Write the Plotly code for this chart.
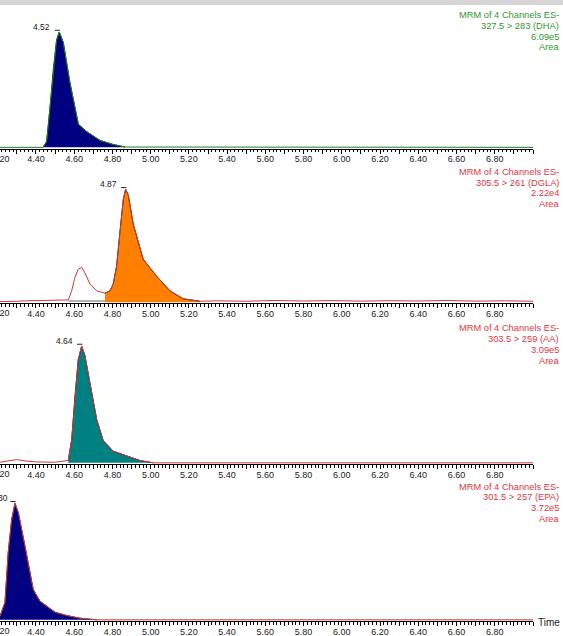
import numpy as np
import plotly.graph_objects as go

# ---------------- data ----------------
tick_values = [4.20, 4.40, 4.60, 4.80, 5.00, 5.20, 5.40, 5.60, 5.80, 6.00, 6.20, 6.40, 6.60, 6.80]
tick_labels = ["4.20", "4.40", "4.60", "4.80", "5.00", "5.20", "5.40", "5.60", "5.80", "6.00", "6.20", "6.40", "6.60", "6.80"]

dha_time = [4.212, 4.437, 4.456, 4.473, 4.491, 4.508, 4.522, 4.543, 4.578, 4.622, 4.665, 4.735, 4.804, 4.866, 7.0]
dha_int = [0, 0, 5, 33, 68, 93, 100, 91, 56, 20, 13.7, 6, 2.5, 0.3, 0]
dha_area = [4.437, 4.866]

dgla_time = [4.212, 4.25, 4.30, 4.35, 4.40, 4.45, 4.50, 4.562, 4.569, 4.587, 4.604, 4.621, 4.639,
             4.656, 4.683, 4.718, 4.761, 4.787, 4.804, 4.822, 4.839, 4.857, 4.869, 4.883, 4.909,
             4.961, 5.031, 5.101, 5.170, 5.258, 5.35, 5.50, 5.65, 5.80, 5.95, 6.10, 6.25, 6.40,
             6.55, 6.70, 6.85, 7.0]
dgla_int = [0.5, 0.5, 0.8, 1.2, 1.4, 1.4, 1.3, 1.5, 2, 10, 22, 29, 31,
            26, 16, 10, 8, 10, 16, 32, 62, 91, 100, 95, 69,
            38, 23, 10, 3, 0.8, 1.2, 0.8, 1.5, 1.0, 1.4, 0.9, 1.3, 1.0,
            1.5, 0.9, 1.2, 0.8]
dgla_area = [4.761, 5.258]
dgla_split = [4.569, 4.761]

aa_time = [4.212, 4.25, 4.299, 4.35, 4.40, 4.50, 4.569, 4.587, 4.604, 4.621, 4.639, 4.656,
           4.683, 4.718, 4.752, 4.804, 4.874, 4.944, 5.014, 5.1, 7.0]
aa_int = [0.5, 1.5, 2.8, 1.5, 0.8, 0.5, 2, 20, 57, 88, 100, 92,
          68, 37, 19, 10, 6, 2, 0, 0, 0]
aa_area = [4.569, 5.014]

epa_time = [4.212, 4.238, 4.255, 4.273, 4.290, 4.308, 4.343, 4.386, 4.421, 4.500, 4.561, 4.630, 4.718, 7.0]
epa_int = [3, 15, 58, 86, 100, 92, 63, 26, 16, 6.5, 3.7, 1.4, 0, 0]
epa_area = [4.212, 4.718]

channels = ["327.5 > 283 (DHA)", "305.5 > 261 (DGLA)", "303.5 > 259 (AA)", "301.5 > 257 (EPA)"]
areas = ["6.09e5", "2.22e4", "3.09e5", "3.72e5"]
peak_rt = ["4.52", "4.87", "4.64", "4.30"]

# ---------------- styling / layout ----------------
W, H = 563, 636
FONT = "Liberation Sans, Arial, sans-serif"
GREEN_TXT = "#2f9a2f"
RED_TXT = "#e0383f"

panels = [
    dict(t=dha_time, y=dha_int, area=dha_area, fill="#000080", line="#1e7d1e", txt=GREEN_TXT,
         base=148.5, peak=32.0, lab=[15.0, 26.0, 36.7, 47.3]),
    dict(t=dgla_time, y=dgla_int, area=dgla_area, fill="#ff8000", line="#cc3a3a", txt=RED_TXT,
         base=303.3, peak=189.3, lab=[171.7, 182.7, 193.3, 204.0]),
    dict(t=aa_time, y=aa_int, area=aa_area, fill="#008080", line="#cc3a3a", txt=RED_TXT,
         base=464.0, peak=346.0, lab=[328.3, 339.3, 350.0, 361.0]),
    dict(t=epa_time, y=epa_int, area=epa_area, fill="#000080", line="#cc3a3a", txt=RED_TXT,
         base=621.0, peak=503.3, lab=[486.7, 497.3, 508.3, 519.3]),
]

X0, X1 = 4.212, 7.0
XPIX = 533.0
XDOM = [0, XPIX / W]
TICKFONT = dict(size=9, family=FONT, color="#222")

fig = go.Figure()
layout = dict(width=W, height=H, margin=dict(l=0, r=0, t=0, b=0),
              paper_bgcolor="white", plot_bgcolor="white", showlegend=False,
              font=dict(family=FONT, size=9, color="#222"))
annotations = []
shapes = [dict(type="rect", xref="paper", yref="paper", x0=0, x1=1, y0=1 - 5 / H, y1=1,
               fillcolor="#d6d6d6", line=dict(width=0), layer="above")]

all_ticks = [round(4.2 + 0.1 * i, 2) for i in range(29)]
all_text = []
for v in all_ticks:
    s = ""
    for tv, tl in zip(tick_values, tick_labels):
        if abs(tv - v) < 1e-6:
            s = tl
    all_text.append(s)

for i, p in enumerate(panels):
    k = "" if i == 0 else str(i + 1)
    xa, ya = "x" + k, "y" + k
    unit = (p["base"] - p["peak"]) / 101.0
    top = p["base"] - 111.0 * unit
    layout["xaxis" + k] = dict(
        domain=XDOM, range=[X0, X1], anchor=ya, showgrid=False, zeroline=False,
        showline=True, linecolor="black", linewidth=1,
        ticks="outside", ticklen=4, tickcolor="black", tickwidth=1,
        tickvals=all_ticks, ticktext=all_text, ticklabelstandoff=-2,
        tickfont=TICKFONT,
        minor=dict(ticks="outside", dtick=0.02, tick0=4.2, ticklen=2.5, tickcolor="black", tickwidth=1),
    )
    layout["yaxis" + k] = dict(
        domain=[1 - p["base"] / H, 1 - top / H], range=[-1, 110], anchor=xa,
        showgrid=False, zeroline=False, showline=False, showticklabels=False, ticks="",
    )
    t = np.array(p["t"])
    y = np.array(p["y"])
    m = (t >= p["area"][0] - 1e-9) & (t <= p["area"][1] + 1e-9)
    fig.add_trace(go.Scatter(x=t[m], y=y[m], mode="lines", fill="tozeroy",
                             fillcolor=p["fill"], line=dict(color="#222", width=1),
                             xaxis=xa, yaxis=ya, hoverinfo="skip"))
    fig.add_trace(go.Scatter(x=t, y=y, mode="lines", line=dict(color=p["line"], width=1),
                             xaxis=xa, yaxis=ya, hoverinfo="skip"))
    if i == 1:
        fig.add_trace(go.Scatter(x=dgla_split, y=[1, 1], mode="lines",
                                 line=dict(color="#999", width=1.5), xaxis=xa, yaxis=ya,
                                 hoverinfo="skip"))
    # peak label
    pk = float(t[int(np.argmax(y))])
    annotations.append(dict(xref=xa, yref=ya, x=pk, y=100, text=peak_rt[i], showarrow=False,
                            xanchor="right", yanchor="middle", xshift=-7 if i < 3 else -5, yshift=5,
                            font=dict(size=8.5, family=FONT, color="#222")))
    shapes.append(dict(type="line", xref=xa, yref=ya, x0=pk - 0.024, x1=pk + 0.004,
                       y0=101.5, y1=101.5, line=dict(color="#222", width=1)))
    # partially visible first tick label (left of the axis start)
    xp = (tick_values[0] - X0) / (X1 - X0) * XPIX / W
    annotations.append(dict(xref="paper", yref="paper", x=xp, y=1 - (p["base"] + 10) / H,
                            text=tick_labels[0], showarrow=False, xanchor="center", xshift=3,
                            yanchor="middle", font=TICKFONT))
    # channel description on the right
    lines = ["MRM of 4 Channels ES-", channels[i], areas[i], "Area"]
    for txt, ypx in zip(lines, p["lab"]):
        annotations.append(dict(xref="paper", yref="paper", x=561 / W, y=1 - ypx / H, text=txt,
                                showarrow=False, xanchor="right", yanchor="middle",
                                font=dict(size=9.3, family=FONT, color=p["txt"])))

annotations.append(dict(xref="paper", yref="paper", x=536 / W, y=1 - 622 / H, text="Time",
                        showarrow=False, xanchor="left", yanchor="middle",
                        font=dict(size=10, family=FONT, color="#222")))

layout["annotations"] = annotations
layout["shapes"] = shapes
fig.update_layout(**layout)
fig.write_html("out.html", config={"displayModeBar": False},
               post_script="document.body.style.margin='0';document.body.style.overflow='hidden';")
